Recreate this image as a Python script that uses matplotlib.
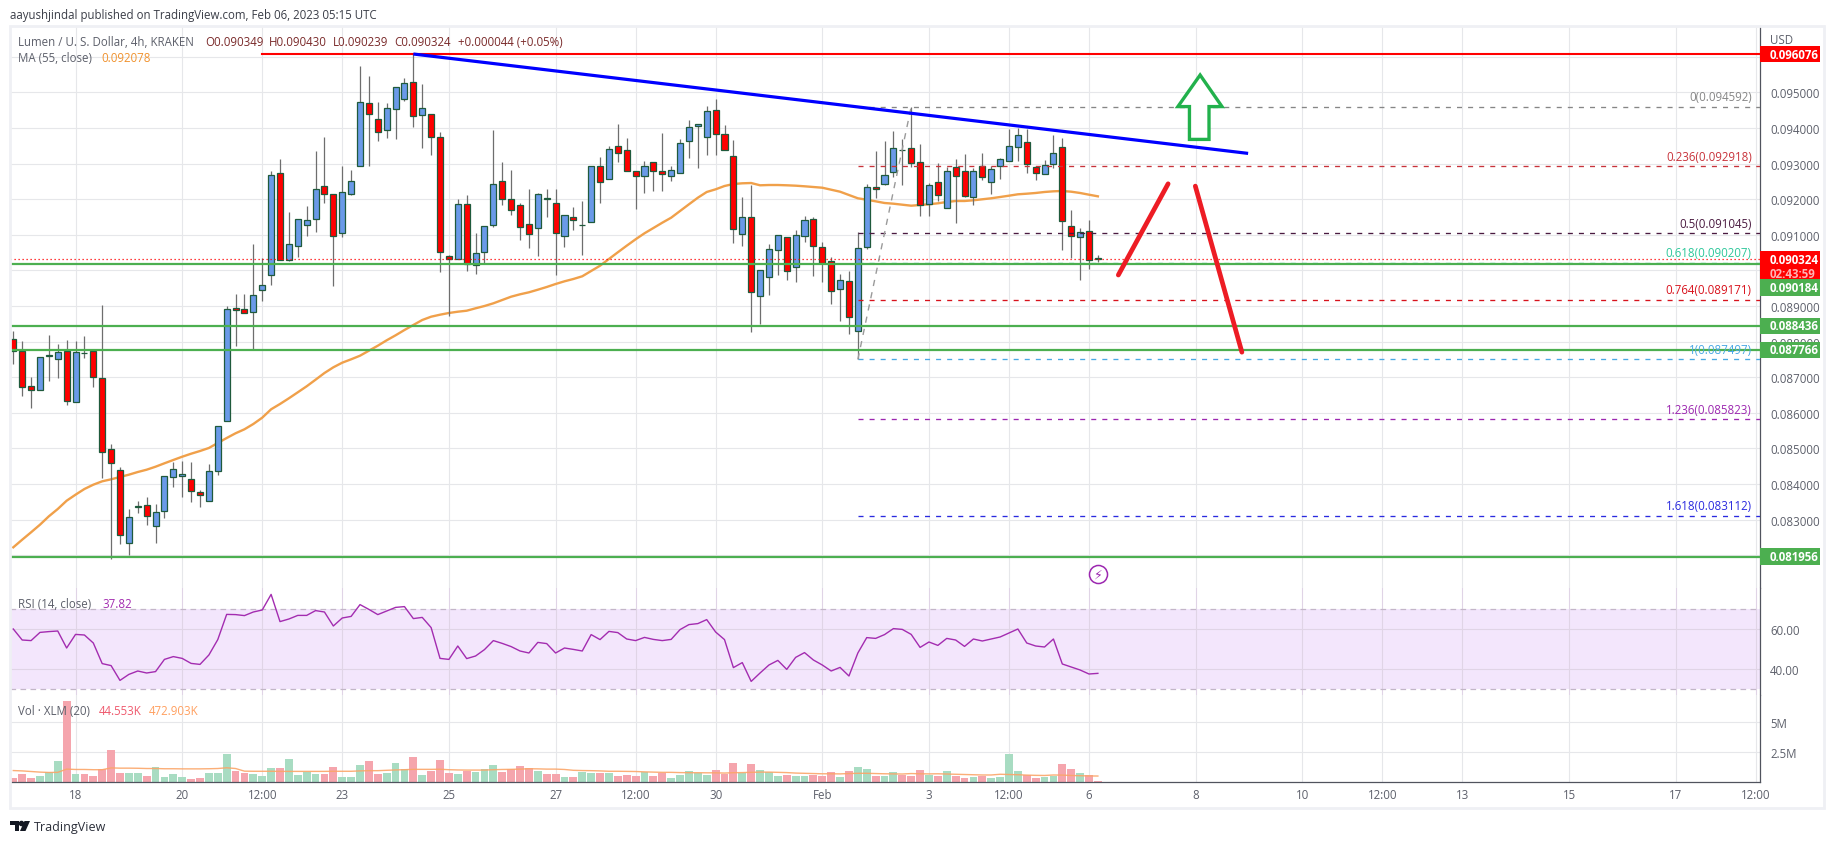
"""Redraw of the Lumen / USD 4h TradingView chart with RSI and volume panes."""

from __future__ import annotations

from pathlib import Path

import matplotlib

matplotlib.use("Agg")

import matplotlib.pyplot as plt
import numpy as np
from matplotlib.lines import Line2D
from matplotlib.patches import Polygon, Rectangle

opens = [
    88.070, 87.725, 86.742, 86.629, 87.584, 87.500, 87.742, 86.292, 87.685, 87.742,
    86.966, 84.972, 84.382, 82.332, 83.343, 83.399, 82.809, 83.231, 84.186, 84.214,
    84.129, 83.764, 83.511, 84.354, 85.759, 88.933, 88.905, 88.820, 89.438, 89.860,
    92.725, 90.281, 90.674, 91.264, 91.433, 92.368, 92.135, 91.040, 92.135, 92.922,
    94.691, 94.242, 93.933, 94.523, 94.804, 95.281, 94.354, 94.382, 93.736, 90.393,
    90.309, 91.854, 90.149, 90.506, 91.264, 92.500, 91.995, 91.826, 91.292, 91.180,
    92.023, 91.882, 90.955, 91.489, 91.264, 91.349, 92.922, 92.556, 93.483, 93.371,
    92.781, 92.641, 93.034, 92.781, 92.641, 92.725, 93.624, 94.045, 93.736, 94.495,
    93.820, 93.202, 91.011, 91.489, 89.270, 89.803, 90.562, 90.927, 90.084, 90.955,
    91.433, 90.646, 90.253, 89.466, 89.691, 88.287, 90.646, 92.332, 92.416, 92.753,
    93.388, 93.427, 93.034, 91.854, 92.472, 91.742, 92.893, 92.781, 92.051, 92.922,
    92.472, 92.922, 93.062, 93.455, 93.596, 92.893, 92.697, 92.978, 93.455, 91.236,
    90.927, 91.096, 90.349,
]
closes = [
    87.725, 86.714, 86.629, 87.556, 87.613, 87.697, 86.320, 87.697, 87.669, 86.995,
    84.888, 84.579, 82.573, 83.062, 83.371, 83.090, 83.203, 84.214, 84.410, 84.270,
    83.792, 83.680, 84.354, 85.618, 88.905, 88.877, 88.792, 89.298, 89.579, 92.669,
    90.281, 90.731, 91.433, 91.405, 92.275, 92.152, 90.955, 92.191, 92.500, 94.719,
    94.382, 93.877, 94.551, 95.141, 95.253, 94.326, 94.551, 93.736, 90.506, 90.326,
    91.854, 90.177, 90.478, 91.236, 92.416, 91.995, 91.686, 91.208, 91.011, 92.135,
    91.995, 91.040, 91.545, 91.405, 91.281, 92.922, 92.472, 93.399, 93.287, 92.781,
    92.641, 92.922, 92.781, 92.697, 92.809, 93.568, 94.017, 94.101, 94.466, 93.820,
    93.371, 91.152, 91.489, 89.382, 90.000, 90.590, 90.983, 89.972, 90.983, 91.405,
    90.674, 90.205, 89.410, 89.719, 88.680, 90.618, 92.332, 92.275, 92.669, 93.427,
    93.371, 93.006, 91.826, 92.388, 92.107, 92.781, 92.641, 92.096, 92.781, 92.613,
    92.837, 93.118, 93.483, 93.792, 92.978, 92.725, 92.950, 93.287, 91.377, 90.955,
    91.068, 90.281, 90.324,
]
highs = [
    88.295, 88.014, 86.995, 87.556, 88.183, 87.930, 88.042, 88.014, 88.155, 87.761,
    89.025, 85.121, 84.466, 83.295, 83.520, 83.632, 83.436, 84.214, 84.615, 84.635,
    84.615, 83.820, 84.559, 85.618, 88.989, 89.334, 89.334, 90.739, 90.346, 92.790,
    93.127, 91.638, 91.433, 91.806, 93.351, 93.745, 92.135, 92.930, 92.818, 95.739,
    95.458, 94.728, 94.700, 95.141, 95.402, 96.076, 95.233, 94.382, 93.877, 90.422,
    91.995, 92.115, 91.048, 91.236, 93.941, 93.042, 92.818, 91.882, 92.275, 92.163,
    92.275, 92.275, 91.545, 91.770, 91.938, 92.922, 93.174, 93.483, 94.101, 93.708,
    92.781, 93.062, 93.034, 93.848, 92.922, 93.680, 94.214, 94.101, 94.607, 94.804,
    94.082, 93.652, 92.059, 92.396, 90.000, 90.739, 90.983, 90.927, 91.132, 91.525,
    91.489, 90.795, 90.374, 89.888, 89.981, 91.068, 92.424, 93.351, 93.632, 93.905,
    93.688, 94.592, 93.548, 92.444, 93.006, 92.893, 93.118, 93.259, 92.874, 93.287,
    92.922, 93.146, 93.969, 93.989, 93.969, 92.922, 93.099, 93.801, 93.716, 91.694,
    91.180, 91.405, 90.430,
]
lows = [
    87.368, 86.478, 86.141, 86.629, 86.899, 86.983, 86.225, 86.292, 87.537, 86.731,
    84.166, 81.891, 82.312, 82.003, 83.183, 82.846, 82.349, 83.042, 83.913, 83.632,
    83.492, 83.351, 83.511, 84.259, 85.759, 87.882, 88.792, 87.789, 89.146, 89.596,
    90.281, 90.261, 90.374, 90.972, 91.084, 91.899, 89.568, 90.936, 92.107, 92.922,
    92.922, 93.641, 93.725, 93.697, 94.747, 94.034, 93.444, 93.247, 89.952, 88.725,
    90.309, 89.989, 89.905, 90.205, 91.225, 91.843, 91.562, 90.860, 90.635, 90.410,
    91.506, 89.877, 90.663, 91.141, 90.438, 91.349, 91.899, 92.556, 93.051, 92.781,
    91.730, 92.172, 92.228, 92.228, 92.509, 92.725, 93.155, 92.882, 93.247, 93.247,
    93.371, 90.775, 90.691, 88.275, 88.492, 89.306, 89.868, 89.728, 89.672, 90.795,
    89.840, 89.672, 89.054, 88.576, 88.211, 87.497, 90.598, 92.023, 92.388, 92.613,
    92.396, 92.893, 91.534, 91.534, 91.955, 91.742, 91.337, 92.068, 91.843, 92.545,
    92.152, 92.573, 93.062, 93.079, 92.733, 92.545, 92.697, 92.865, 90.579, 90.337,
    89.736, 90.045, 90.239,
]
ma_55 = [
    82.219, 82.433, 82.641, 82.854, 83.090, 83.295, 83.528, 83.697, 83.857, 83.978,
    84.073, 84.129, 84.194, 84.259, 84.334, 84.399, 84.483, 84.579, 84.672, 84.764,
    84.848, 84.924, 85.009, 85.149, 85.289, 85.422, 85.534, 85.683, 85.860, 86.096,
    86.245, 86.405, 86.573, 86.742, 86.927, 87.115, 87.275, 87.405, 87.500, 87.601,
    87.742, 87.882, 88.034, 88.174, 88.323, 88.464, 88.604, 88.697, 88.753, 88.801,
    88.837, 88.865, 88.933, 88.997, 89.073, 89.166, 89.259, 89.326, 89.382, 89.455,
    89.531, 89.615, 89.691, 89.756, 89.832, 89.981, 90.129, 90.318, 90.506, 90.691,
    90.871, 91.040, 91.188, 91.337, 91.478, 91.666, 91.854, 92.039, 92.200, 92.275,
    92.368, 92.424, 92.444, 92.452, 92.388, 92.396, 92.396, 92.388, 92.377, 92.360,
    92.340, 92.320, 92.264, 92.208, 92.115, 92.023, 91.983, 91.938, 91.891, 91.871,
    91.843, 91.815, 91.834, 91.854, 91.882, 91.919, 91.947, 91.947, 91.967, 91.995,
    92.023, 92.059, 92.096, 92.135, 92.152, 92.172, 92.200, 92.219, 92.228, 92.208,
    92.172, 92.124, 92.078,
]
rsi_14 = [
    60.0, 54.5, 54.2, 58.3, 58.7, 59.0, 50.5, 57.3, 57.0, 53.0,
    42.7, 41.7, 34.3, 37.3, 39.0, 38.0, 38.7, 44.8, 46.2, 45.3,
    42.8, 42.3, 47.0, 54.7, 67.3, 67.2, 66.7, 68.5, 69.5, 77.3,
    63.7, 65.0, 66.8, 66.8, 69.2, 68.5, 61.5, 65.5, 66.3, 72.2,
    69.8, 67.2, 69.0, 70.8, 71.2, 65.2, 65.8, 60.7, 45.3, 44.8,
    51.5, 45.2, 46.5, 49.7, 54.2, 52.8, 51.2, 49.0, 48.0, 53.3,
    52.7, 48.0, 50.5, 49.8, 49.0, 57.2, 54.7, 58.8, 58.2, 55.0,
    54.2, 55.8, 54.8, 54.2, 54.8, 59.7, 62.2, 62.7, 64.7, 58.5,
    54.7, 40.7, 43.2, 33.8, 38.0, 42.0, 44.3, 39.8, 45.8, 48.2,
    44.5, 42.0, 39.0, 40.8, 36.5, 48.0, 55.7, 55.3, 57.2, 60.2,
    59.8, 57.3, 50.8, 53.5, 51.8, 55.3, 54.5, 51.3, 55.0, 54.0,
    55.0, 56.0, 58.0, 60.0, 53.0, 51.5, 51.0, 55.0, 42.5, 41.0,
    39.5, 37.5, 37.82,
]
# volume in millions
volumes = [
    0.30, 0.64, 0.30, 0.47, 0.77, 1.71, 6.77, 0.64, 0.64, 0.47,
    1.02, 2.62, 0.72, 0.72, 0.72, 0.47, 1.21, 0.39, 0.64, 0.39,
    0.22, 0.30, 0.72, 0.72, 2.29, 0.88, 0.72, 0.64, 0.47, 1.13,
    1.13, 1.88, 0.55, 0.80, 0.64, 0.64, 1.21, 0.39, 0.39, 1.38,
    1.71, 0.64, 0.72, 1.55, 1.05, 2.04, 0.55, 0.88, 1.80, 0.72,
    0.64, 0.88, 0.80, 1.05, 1.38, 0.80, 1.05, 1.30, 1.13, 0.88,
    0.64, 0.64, 0.39, 0.39, 0.80, 0.72, 0.72, 0.72, 0.47, 0.60,
    0.45, 0.80, 0.50, 0.75, 0.30, 0.60, 0.90, 0.70, 0.55, 1.00,
    0.65, 1.60, 0.75, 1.50, 1.00, 0.80, 0.50, 0.60, 0.50, 0.50,
    0.60, 0.50, 0.80, 0.40, 0.90, 1.20, 1.10, 0.50, 0.50, 0.80,
    0.60, 0.50, 1.00, 0.60, 0.50, 0.90, 0.50, 0.30, 0.40, 0.45,
    0.35, 0.40, 2.30, 0.90, 0.60, 0.30, 0.40, 0.50, 1.50, 1.10,
    0.70, 0.60, 0.045,
]
volume_ma = [
    0.93, 0.90, 0.85, 0.80, 0.77, 0.78, 1.05, 1.02, 1.02, 1.00,
    1.00, 1.15, 1.13, 1.13, 1.12, 1.10, 1.10, 1.08, 1.08, 1.07,
    1.07, 1.07, 1.08, 1.10, 1.16, 1.10, 0.88, 0.87, 0.87, 0.87,
    0.86, 0.86, 0.86, 0.86, 0.86, 0.86, 0.87, 0.87, 0.87, 0.90,
    0.92, 0.92, 0.95, 0.98, 1.00, 1.03, 1.03, 1.03, 1.04, 1.00,
    0.98, 0.97, 0.97, 0.97, 1.00, 1.02, 1.03, 1.05, 1.08, 1.07,
    1.05, 1.05, 1.02, 0.95, 0.93, 0.92, 0.90, 0.87, 0.87, 0.86,
    0.85, 0.82, 0.80, 0.78, 0.78, 0.76, 0.75, 0.75, 0.74, 0.74,
    0.72, 0.75, 0.76, 0.78, 0.80, 0.80, 0.78, 0.76, 0.72, 0.70,
    0.68, 0.66, 0.66, 0.65, 0.68, 0.70, 0.70, 0.68, 0.66, 0.65,
    0.64, 0.68, 0.66, 0.65, 0.66, 0.64, 0.62, 0.60, 0.58, 0.56,
    0.56, 0.62, 0.60, 0.58, 0.55, 0.53, 0.52, 0.56, 0.55, 0.52,
    0.50, 0.48, 0.473,
]

tick_bars = [7, 19, 28, 37, 49, 61, 70, 79, 91, 103, 112, 121, 133, 145, 154, 163, 175, 187, 196]
tick_labels = [
    "18", "20", "12:00", "23", "25", "27", "12:00", "30", "Feb", "3", "12:00", "6",
    "8", "10", "12:00", "13", "15", "17", "12:00",
]
price_ticks = [82, 83, 84, 85, 86, 87, 88, 89, 90, 91, 92, 93, 94, 95, 96]
hidden_price_labels = [82, 90, 96]

support_levels = [90.184, 88.436, 87.766, 81.956]
resistance_level = 96.076
last_price = 90.324

fib_ratios = ["0", "0.236", "0.5", "0.618", "0.764", "1", "1.236", "1.618"]
fib_prices = [94.592, 92.918, 91.045, 90.207, 89.171, 87.497, 85.823, 83.112]
fib_colors = ["#868686", "#c8323a", "#4a1a40", "#2cc79a", "#d8121c", "#4aa8e4", "#9c27b0", "#2a2adf"]

trend_bars = [45, 138.9]
trend_prices = [96.076, 93.284]
red_up_bars = [124.3, 129.9]
red_up_prices = [89.868, 92.430]
red_down_bars = [132.96, 138.2]
red_down_prices = [92.365, 87.700]
arrow_bars = [133.5, 135.96, 134.5, 134.5, 132.3, 132.3, 131.0]
arrow_prices = [95.486, 94.599, 94.599, 93.677, 93.677, 94.599, 94.599]

WIDTH = 1834
HEIGHT = 845
PLOT_LEFT = 10.0
PLOT_RIGHT = 1760.3
BAR_ZERO = 13.3
BAR_STEP = 8.89

FONT = "Open Sans"
TEXT_SIZE = 8.3
GRID = "#e6e7ea"
AXIS = "#50535e"
LABEL = "#5d606b"

UP = "#6a9ae8"
DOWN = "#ff0000"
EDGE = "#1f5a3c"
WICK = "#6e6e6e"
GREEN = "#4caf50"


def add_pane(figure, top: float, bottom: float):
    """Add a pane between two pixel rows, sharing the bar scale."""

    axes = figure.add_axes([
        PLOT_LEFT / WIDTH,
        1.0 - bottom / HEIGHT,
        (PLOT_RIGHT - PLOT_LEFT) / WIDTH,
        (bottom - top) / HEIGHT,
    ])
    axes.set_xlim(
        (PLOT_LEFT - BAR_ZERO) / BAR_STEP,
        (PLOT_RIGHT - BAR_ZERO) / BAR_STEP,
    )
    axes.set_xticks(tick_bars)
    axes.set_xticklabels([])
    axes.yaxis.tick_right()
    axes.tick_params(axis="both", length=0, labelsize=TEXT_SIZE, labelcolor=LABEL)
    axes.tick_params(axis="y", pad=7)
    axes.grid(True, color=GRID, linewidth=0.8)
    axes.set_axisbelow(True)
    for name in ("top", "left", "bottom"):
        axes.spines[name].set_visible(False)
    axes.spines["right"].set_color(AXIS)
    axes.spines["right"].set_linewidth(0.9)
    return axes


def px_text(figure, x: float, y: float, text: str, color: str, **kwargs) -> None:
    """Place a text at a pixel position of the figure."""

    figure.text(
        x / WIDTH,
        1.0 - y / HEIGHT,
        text,
        color=color,
        fontsize=kwargs.pop("fontsize", TEXT_SIZE),
        va="center",
        **kwargs,
    )


def add_badge(axes, price: float, half_height: float, color: str) -> None:
    """Draw a filled label box on the price axis, centred on a price."""

    height = half_height / (axes.bbox.height / (axes.get_ylim()[1] - axes.get_ylim()[0]))
    axes.add_patch(Rectangle(
        (1.0, price - height),
        60.0 / axes.bbox.width,
        2.0 * height,
        transform=axes.get_yaxis_transform(),
        facecolor=color,
        edgecolor="none",
        clip_on=False,
        zorder=20,
    ))


def badge_text(axes, price: float, text: str, color: str = "white") -> None:
    """Write a text inside a price axis badge."""

    axes.annotate(
        text,
        xy=(1.0, price),
        xycoords=axes.get_yaxis_transform(),
        xytext=(7, 0),
        textcoords="offset points",
        va="center",
        ha="left",
        color=color,
        fontsize=TEXT_SIZE,
        fontweight="bold",
        annotation_clip=False,
        zorder=21,
    )


def draw_price_pane(figure) -> None:
    """Draw candles, moving average, levels, fibs and the drawn arrows."""

    axes = add_pane(figure, 26.7, 589.0)
    axes.set_ylim(0.081076, 0.096871)

    bars = np.arange(len(opens))
    open_usd = np.array(opens) / 1000.0
    close_usd = np.array(closes) / 1000.0
    high_usd = np.array(highs) / 1000.0
    low_usd = np.array(lows) / 1000.0
    colors = [UP if c >= o else DOWN for o, c in zip(open_usd, close_usd)]

    axes.plot(bars, np.array(ma_55) / 1000.0, color="#f0a04a", linewidth=1.7, zorder=3)
    axes.vlines(bars, low_usd, high_usd, color=WICK, linewidth=0.9, zorder=4)
    axes.bar(
        bars,
        np.abs(close_usd - open_usd),
        bottom=np.minimum(open_usd, close_usd),
        width=0.68,
        color=colors,
        edgecolor=EDGE,
        linewidth=0.9,
        zorder=5,
    )

    axes.axhline(last_price / 1000.0, color="#ff0000", linewidth=0.9, linestyle=(0, (1, 2.2)), zorder=6)

    # fib levels run from the swing low candle to the price axis
    swing_bar = 95
    right_edge = axes.get_xlim()[1]
    for ratio, price, color in zip(fib_ratios, fib_prices, fib_colors):
        axes.plot(
            [swing_bar, right_edge],
            [price / 1000.0, price / 1000.0],
            color=color,
            linewidth=0.95,
            linestyle=(0, (3.8, 4.6)),
            zorder=6,
        )
        axes.annotate(
            f"{ratio}({price / 1000.0:.6f})",
            xy=(1.0, price / 1000.0),
            xycoords=axes.get_yaxis_transform(),
            xytext=(-6.2, 7.2),
            textcoords="offset points",
            ha="right",
            va="center",
            color=color,
            fontsize=TEXT_SIZE,
            zorder=8,
        )
    axes.plot(
        [swing_bar, 101],
        [fib_prices[5] / 1000.0, fib_prices[0] / 1000.0],
        color="#9a9a9a",
        linewidth=1.0,
        linestyle=(0, (4.5, 4.5)),
        zorder=6,
    )

    for level in support_levels:
        axes.axhline(level / 1000.0, color=GREEN, linewidth=1.6, zorder=7)
    axes.plot(
        [28, right_edge],
        [resistance_level / 1000.0, resistance_level / 1000.0],
        color="#ff0000",
        linewidth=1.5,
        zorder=7,
    )
    axes.plot(
        trend_bars,
        np.array(trend_prices) / 1000.0,
        color="#0000ff",
        linewidth=2.3,
        zorder=8,
        solid_capstyle="butt",
    )
    for xs, ys in ((red_up_bars, red_up_prices), (red_down_bars, red_down_prices)):
        axes.plot(
            xs,
            np.array(ys) / 1000.0,
            color="#ed1c24",
            linewidth=3.4,
            solid_capstyle="round",
            zorder=9,
        )
    axes.add_patch(Polygon(
        np.column_stack([arrow_bars, np.array(arrow_prices) / 1000.0]),
        closed=True,
        facecolor="white",
        edgecolor="#22b14c",
        linewidth=2.4,
        zorder=9,
    ))

    # lightning marker below the candles
    axes.plot(
        [122.05],
        [0.081458],
        marker="o",
        markersize=13,
        markerfacecolor="white",
        markeredgecolor="#9c27b0",
        markeredgewidth=1.1,
        zorder=9,
        clip_on=False,
    )
    axes.text(
        122.05,
        0.081458,
        "\u26a1",
        color="#9c27b0",
        fontsize=9,
        family="DejaVu Sans",
        ha="center",
        va="center",
        zorder=10,
    )

    axes.set_yticks([tick / 1000.0 for tick in price_ticks])
    axes.set_yticklabels([
        "" if tick in hidden_price_labels else f"{tick / 1000.0:.6f}"
        for tick in price_ticks
    ])

    add_badge(axes, 0.096076, 8.0, "#ff0000")
    badge_text(axes, 0.096076, "0.096076")
    add_badge(axes, 0.090149, 14.0, "#ff0000")
    badge_text(axes, 0.090290, "0.090324")
    badge_text(axes, 0.089924, "02:43:59", "#ffb4b4")
    add_badge(axes, 0.089523, 8.3, GREEN)
    badge_text(axes, 0.089523, "0.090184")
    add_badge(axes, 0.088436, 8.3, GREEN)
    badge_text(axes, 0.088436, "0.088436")
    add_badge(axes, 0.087766, 8.3, GREEN)
    badge_text(axes, 0.087766, "0.087766")
    add_badge(axes, 0.081956, 8.3, GREEN)
    badge_text(axes, 0.081956, "0.081956")


def draw_rsi_pane(figure) -> None:
    """Draw the RSI line and its band."""

    axes = add_pane(figure, 589.0, 696.0)
    axes.set_ylim(27.0, 80.5)
    axes.axhspan(30, 70, color="#f3e6fc", linewidth=0, zorder=0.5)
    axes.grid(True, color="#e0d4e6", linewidth=0.8)
    for level in (30, 70):
        axes.axhline(level, color="#c3b6c8", linewidth=0.9, linestyle=(0, (4.5, 3.5)), zorder=1)
    axes.plot(np.arange(len(rsi_14)), rsi_14, color="#a32cb0", linewidth=1.0, zorder=3)
    axes.set_yticks([40, 60])
    axes.set_yticklabels(["40.00", "60.00"])


def draw_volume_pane(figure) -> None:
    """Draw the volume bars, their average and the time axis."""

    axes = add_pane(figure, 696.0, 782.7)
    axes.set_ylim(0.0, 7.23)
    bars = np.arange(len(volumes))
    colors = ["#a8dcc2" if c >= o else "#f5a5ad" for o, c in zip(opens, closes)]
    axes.bar(bars, volumes, width=0.88, color=colors, linewidth=0, zorder=2)
    axes.plot(bars, volume_ma, color="#fba568", linewidth=1.0, alpha=0.9, zorder=3)
    axes.set_yticks([2.5, 5.0])
    axes.set_yticklabels(["2.5M", "5M"])
    axes.set_xticklabels(tick_labels)
    axes.tick_params(axis="x", pad=4.5)
    axes.spines["bottom"].set_visible(True)
    axes.spines["bottom"].set_color(AXIS)
    axes.spines["bottom"].set_linewidth(0.9)


def draw_chrome(figure) -> None:
    """Draw the page frame, legends, header and logo."""

    def to_fig(x: float, y: float) -> tuple[float, float]:
        return x / WIDTH, 1.0 - y / HEIGHT

    left, top = to_fig(9.5, 809.0)
    figure.add_artist(Rectangle(
        (left, top),
        (1824.0 - 9.5) / WIDTH,
        (809.0 - 26.5) / HEIGHT,
        transform=figure.transFigure,
        facecolor="none",
        edgecolor="#eff0f4",
        linewidth=2.0,
    ))

    px_text(figure, 10, 15, "aayushjindal published on TradingView.com, Feb 06, 2023 05:15 UTC", "#3a3d47")
    px_text(figure, 18, 42, "Lumen / U. S. Dollar, 4h, KRAKEN", LABEL)
    for x, text in ((205, "O0.090349"), (269, "H0.090430"), (333, "L0.090239"), (394, "C0.090324"), (458, "+0.000044 (+0.05%)")):
        px_text(figure, x, 42, text, "#7a2a2a")
    px_text(figure, 18, 58, "MA (55, close)", LABEL)
    px_text(figure, 101, 58, "0.092078", "#f0922e")
    px_text(figure, 18, 605, "RSI (14, close)", LABEL)
    px_text(figure, 102, 605, "37.82", "#a32cb0")
    px_text(figure, 18, 712, "Vol \u00b7 XLM (20)", LABEL)
    px_text(figure, 99, 712, "44.553K", "#ef5a6e")
    px_text(figure, 149, 712, "472.903K", "#ffa060")
    px_text(figure, 1770, 40, "USD", LABEL)

    # TradingView mark and word
    dark = "#131722"
    figure.add_artist(Polygon(
        [to_fig(*point) for point in ((10, 822), (18.6, 822), (18.6, 832), (14.6, 832), (14.6, 826), (10, 826))],
        closed=True, transform=figure.transFigure, facecolor=dark, edgecolor="none",
    ))
    figure.add_artist(Polygon(
        [to_fig(*point) for point in ((24.5, 822), (30, 822), (25.5, 832), (20, 832))],
        closed=True, transform=figure.transFigure, facecolor=dark, edgecolor="none",
    ))
    figure.add_artist(Line2D(
        [20.8 / WIDTH], [1.0 - 824.0 / HEIGHT],
        marker="o", markersize=3, color=dark, transform=figure.transFigure,
    ))
    px_text(figure, 33.5, 828, "TradingView", "#2a2e39", fontsize=9)


def main() -> None:
    """Generate the chart figure."""

    plt.rcParams["font.family"] = FONT

    figure = plt.figure(figsize=(WIDTH / 100, HEIGHT / 100), dpi=100, facecolor="white")

    draw_price_pane(figure)
    draw_rsi_pane(figure)
    draw_volume_pane(figure)
    draw_chrome(figure)

    figure.savefig(Path("out.png"), dpi=100)
    plt.close(figure)


if __name__ == "__main__":
    main()
